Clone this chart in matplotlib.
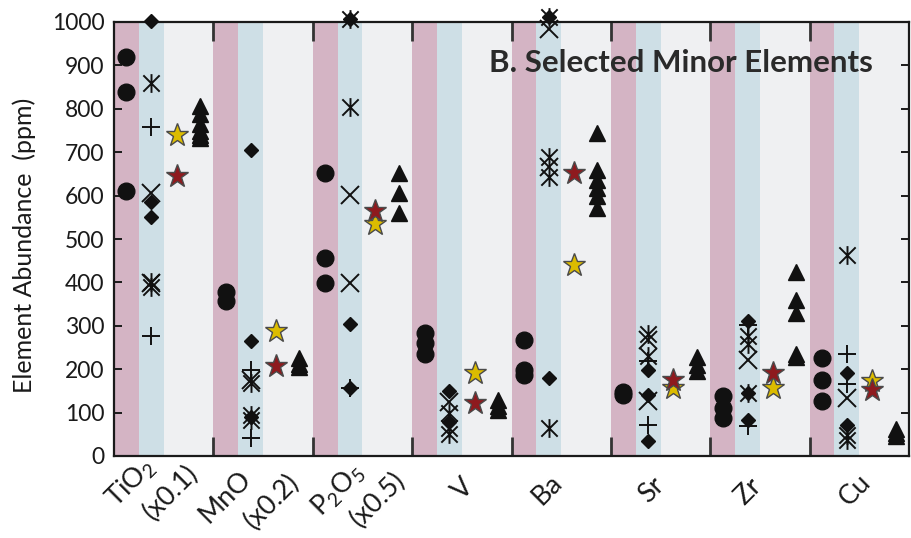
import matplotlib
matplotlib.use("Agg")
import matplotlib.pyplot as plt
import matplotlib.transforms as mtransforms
from matplotlib.path import Path

plt.rcParams['font.family'] = ['Lato', 'DejaVu Sans']
plt.rcParams['mathtext.fontset'] = 'custom'
plt.rcParams['mathtext.rm'] = 'Lato'
plt.rcParams['mathtext.it'] = 'Lato:italic'
plt.rcParams['mathtext.bf'] = 'Lato:bold'

# ---------------- data ----------------
elements = ['TiO2', 'MnO', 'P2O5', 'V', 'Ba', 'Sr', 'Zr', 'Cu']

circle_vals = [[920, 838, 610], [377, 357], [653, 457, 399], [284, 260, 234],
               [268, 199, 186], [148, 140], [138, 111, 88], [226, 176, 126]]
diamond_vals = [[1003, 586, 550], [705, 264, 90], [1008, 303, 157], [149, 78],
                [1012, 180], [199, 141, 34], [310, 145, 84], [191, 72]]
plus_vals = [[757, 276], [199, 42], [157], [],
             [], [218, 72], [302, 69], [234, 165]]
cross_vals = [[606, 398], [175], [602, 399], [125],
              [985, 667], [268, 126], [222], [134]]
aster_vals = [[860, 400, 390], [168, 95, 82], [1008, 805], [100, 65, 50],
              [1012, 690, 644, 65], [280, 230], [276, 257, 145], [464, 49, 38]]
yellow_star = [740, 287, 535, 192, 441, 157, 157, 172]
red_star = [646, 207, 565, 123, 652, 176, 191, 153]
triangle_vals = [[806, 788, 764, 750, 740, 733], [226, 212, 205], [652, 606, 560],
                 [128, 115, 105], [744, 659, 636, 617, 598, 571], [229, 210, 195],
                 [425, 360, 330, 234, 228], [62, 52, 45]]

label_lines = ['TiO$_2$', '(x0.1)', 'MnO', '(x0.2)', 'P$_2$O$_5$', '(x0.5)',
               'V', 'Ba', 'Sr', 'Zr', 'Cu']
label_x = [0.17, 0.575, 1.12, 1.59, 2.25, 2.66, 3.51, 4.36, 5.41, 6.38, 7.46]
label_y = [-0.062, -0.085, -0.094, -0.105, -0.078, -0.101, -0.076, -0.078,
           -0.078, -0.081, -0.078]

# ---------------- style ----------------
bg = '#eff0f2'
pink = '#d4b4c4'
blue = '#cedfe6'
ink = '#111111'

# asterisk: an X with a vertical bar
aster = Path([(-1, -1), (1, 1), (-1, 1), (1, -1), (0, -1.15), (0, 1.15)],
             [Path.MOVETO, Path.LINETO, Path.MOVETO, Path.LINETO,
              Path.MOVETO, Path.LINETO])

fig = plt.figure(figsize=(9.11, 5.38), dpi=100)
ax = fig.add_axes([114 / 911, 82 / 538, 795 / 911, 434 / 538])
ax.set_facecolor(bg)
ax.set_xlim(0, 8)
ax.set_ylim(0, 1000)

for i in range(len(elements)):
    ax.axvspan(i, i + 0.25, color=pink, lw=0, zorder=0)
    ax.axvspan(i + 0.25, i + 0.5, color=blue, lw=0, zorder=0)

x_circ, x_blue, x_star, x_tri = 0.125, 0.375, 0.63, 0.865

for i in range(len(elements)):
    kw = dict(clip_on=False, zorder=4, linestyle='none')
    ax.plot([i + x_circ] * len(circle_vals[i]), circle_vals[i], marker='o',
            ms=12, color=ink, **kw)
    ax.plot([i + x_blue] * len(diamond_vals[i]), diamond_vals[i], marker='D',
            ms=7.5, color=ink, **kw)
    ax.plot([i + x_blue] * len(plus_vals[i]), plus_vals[i], marker='+',
            ms=13, mew=1.4, color=ink, **kw)
    ax.plot([i + x_blue] * len(cross_vals[i]), cross_vals[i], marker='x',
            ms=12.5, mew=1.4, color=ink, **kw)
    ax.plot([i + x_blue] * len(aster_vals[i]), aster_vals[i], marker=aster,
            ms=13.5, mew=1.4, color=ink, **kw)
    ax.plot([i + x_tri] * len(triangle_vals[i]), triangle_vals[i], marker='^',
            ms=12, color=ink, **kw)
    ax.plot([i + x_star], [yellow_star[i]], marker='*', ms=17, mfc='#dcbc00',
            mec='#4a4a4a', mew=1.0, **kw)
    ax.plot([i + x_star], [red_star[i]], marker='*', ms=17, mfc='#8e1a1e',
            mec='#4a4a4a', mew=1.0, **kw)

# axes frame and ticks
for s in ax.spines.values():
    s.set_linewidth(1.6)
    s.set_color('#1a1a1a')

ax.set_yticks(range(0, 1001, 100))
ax.tick_params(axis='y', direction='in', length=6, width=1.4, left=True,
               right=True, labelsize=16.5, colors='#1a1a1a', pad=7)
ax.set_xticks(range(1, len(elements)))
ax.set_xticklabels([])
ax.tick_params(axis='x', direction='in', length=14, width=2.0, top=True,
               bottom=True, color='#333333')

ax.set_ylabel('Element Abundance  (ppm)', fontsize=18, color='#1a1a1a')
ax.yaxis.set_label_coords(-0.098, 0.485)

trans = mtransforms.blended_transform_factory(ax.transData, ax.transAxes)
for txt, xx, yy in zip(label_lines, label_x, label_y):
    ax.text(xx, yy, txt, transform=trans, rotation=45, ha='center', va='center',
            fontsize=19.5, color='#1a1a1a')

ax.text(0.955, 0.905, 'B. Selected Minor Elements', transform=ax.transAxes,
        ha='right', va='center', fontsize=22.5, fontweight='bold', color='#2a2a2a')

fig.savefig('out.png', dpi=100)
